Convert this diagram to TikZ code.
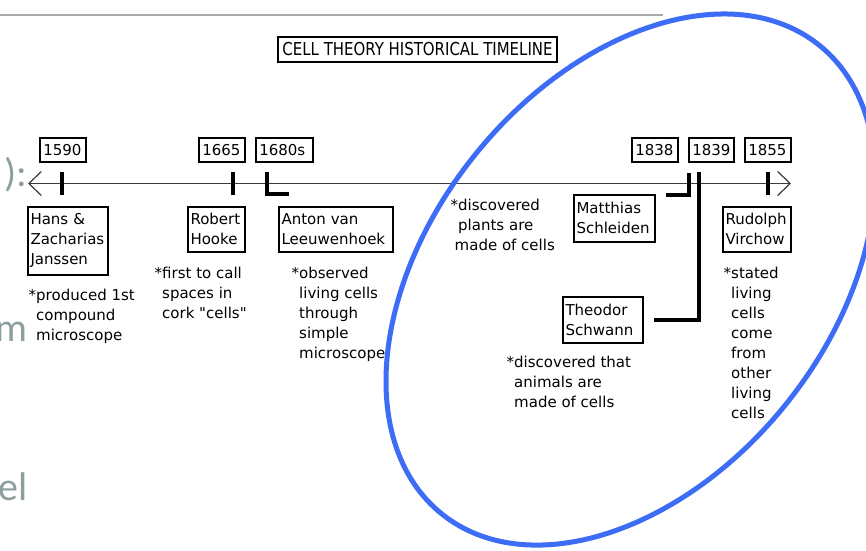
\documentclass[tikz,border=0pt]{standalone}
\usepackage{fontspec}
\setmainfont{DejaVu Sans}
\newfontfamily\dejavu{DejaVu Sans}
\newfontfamily\slidefont{Carlito}
\usetikzlibrary{arrows.meta}
\definecolor{ovalblue}{RGB}{61,108,246}
\definecolor{slidegray}{RGB}{140,158,158}
\definecolor{rulegray}{RGB}{170,170,170}
\definecolor{axisgray}{RGB}{60,60,60}
\newcommand{\lbl}{\dejavu\fontsize{15pt}{20pt}\selectfont}
\newcommand{\tstr}[1]{\rule{0pt}{#1pt}}
\newcommand{\bstr}[1]{\rule[-#1pt]{0pt}{#1pt}}
\tikzset{
  namebox/.style={draw=black, line width=1.2pt, inner xsep=2.5pt, inner ysep=0pt, outer sep=0pt, align=left, font=\lbl},
  yearbox/.style={draw=black, line width=1.2pt, inner xsep=3.3pt, inner ysep=0pt, outer sep=0pt, align=left, font=\lbl, minimum height=24pt},
  note/.style={inner sep=0pt, anchor=north west, align=left, font=\lbl},
  titlebox/.style={draw=black, line width=1.2pt, inner sep=0pt, minimum width=279pt, minimum height=25pt},
  tickline/.style={line width=4pt, line cap=butt, line join=miter},
  timeline/.style={draw=axisgray, line width=1.2pt, {Straight Barb[length=12.5pt,width=24pt]}-{Straight Barb[length=12.5pt,width=24pt]}},
  toprule/.style={draw=rulegray, line width=2pt},
  slidetext/.style={inner sep=0pt, anchor=base east, text=slidegray, font=\slidefont\fontsize{40pt}{48pt}\selectfont},
  ovalline/.style={draw=ovalblue, line width=5pt},
}
\begin{document}
\begin{tikzpicture}[x=1pt, y=-1pt]
\useasboundingbox (0,0) rectangle (866,550);
\clip (0,0) rectangle (866,550);
\fill[white] (0,0) rectangle (866,550);

% top rule of the slide
\coordinate (ruleL) at (0,15);
\coordinate (ruleR) at (663,15);
\draw[toprule] (ruleL) -- (ruleR);

% slide text fragments on the left
\node[slidetext] (fragA) at (27.5,186) {):};
\node[slidetext] (fragB) at (28,341) {m};
\node[slidetext] (fragC) at (28,500) {el};

% title
\node[titlebox] (title) at (417.5,49.5) {\scalebox{0.84}[1]{\dejavu\fontsize{17.8pt}{20pt}\selectfont CELL THEORY HISTORICAL TIMELINE}};

% timeline
\coordinate (tlL) at (28,183.5);
\coordinate (tlR) at (791,183.5);
\draw[timeline] (tlL) -- (tlR);

% year boxes
\node[yearbox, minimum width=46pt, text width=39.4pt] (y1590) at (63,150) {1590};
\node[yearbox, minimum width=46pt, text width=39.4pt] (y1665) at (222,150) {1665};
\node[yearbox, minimum width=57pt, text width=50.4pt] (y1680) at (284.5,150) {1680s};
\node[yearbox, minimum width=46pt, text width=39.4pt] (y1838) at (655,150) {1838};
\node[yearbox, minimum width=45pt, text width=38.4pt] (y1839) at (711.5,150) {1839};
\node[yearbox, minimum width=46pt, text width=39.4pt] (y1855) at (768,150) {1855};

% ticks and brackets
\coordinate (k1a) at (62,172);   \coordinate (k1b) at (62,195);
\coordinate (k2a) at (233,172);  \coordinate (k2b) at (233,195);
\coordinate (k3a) at (267,172);  \coordinate (k3b) at (267,194); \coordinate (k3c) at (289,194);
\coordinate (k4a) at (688.7,173); \coordinate (k4b) at (688.7,194.7); \coordinate (k4c) at (666,194.7);
\coordinate (k5a) at (699.3,172); \coordinate (k5b) at (699.3,319.5); \coordinate (k5c) at (654.3,319.5);
\coordinate (k6a) at (768,172);  \coordinate (k6b) at (768,195);
\draw[tickline] (k1a) -- (k1b);
\draw[tickline] (k2a) -- (k2b);
\draw[tickline] (k3a) -- (k3b) -- (k3c);
\draw[tickline] (k4a) -- (k4b) -- (k4c);
\draw[tickline] (k5a) -- (k5b) -- (k5c);
\draw[tickline] (k6a) -- (k6b);

% name boxes
\node[namebox, minimum width=80pt, minimum height=68pt, text width=75pt] (janssen) at (68,241) {\tstr{12}Hans \&\\Zacharias\\Janssen\bstr{6}};
\node[namebox, minimum width=57pt, minimum height=45pt, text width=52pt] (hooke) at (216.5,229.5) {\tstr{13}Robert\\Hooke\bstr{4}};
\node[namebox, minimum width=114pt, minimum height=45pt, text width=109pt] (leeuw) at (336,229.5) {\tstr{13}Anton van\\Leeuwenhoek\bstr{4}};
\node[namebox, minimum width=81pt, minimum height=47pt, text width=76pt] (schleiden) at (614.5,218.5) {\tstr{13}Matthias\\Schleiden\bstr{4}};
\node[namebox, minimum width=68pt, minimum height=45pt, text width=63pt] (virchow) at (757,229.5) {\tstr{13}Rudolph\\Virchow\bstr{4}};
\node[namebox, minimum width=80pt, minimum height=46pt, text width=75pt] (schwann) at (603,320) {\tstr{13}Theodor\\Schwann\bstr{3}};

% notes
\node[note] (n1) at (28.5,288.6) {*produced 1st\\\phantom{*}compound\\\phantom{*}microscope};
\node[note] (n2) at (154.5,266.6) {*first to call\\\phantom{*}spaces in\\\phantom{*}cork "cells"};
\node[note] (n3) at (291.5,266.6) {*observed\\\phantom{*}living cells\\\phantom{*}through\\\phantom{*}simple\\\phantom{*}microscope};
\node[note] (n4) at (450.5,198.6) {*discovered\\\phantom{*}plants are\\\hspace{4pt}made of cells};
\node[note] (n5) at (723.5,266.6) {*stated\\\phantom{*}living\\\phantom{*}cells\\\phantom{*}come\\\phantom{*}from\\\phantom{*}other\\\phantom{*}living\\\phantom{*}cells};
\node[note] (n6) at (506.5,355.6) {*discovered that\\\phantom{*}animals are\\\phantom{*}made of cells};

% blue oval
\coordinate (ovc) at (630.5,279.5);
\draw[ovalline, rotate around={51.1:(ovc)}] (ovc) ellipse [x radius=300.9, y radius=199.3];
\end{tikzpicture}
\end{document}
